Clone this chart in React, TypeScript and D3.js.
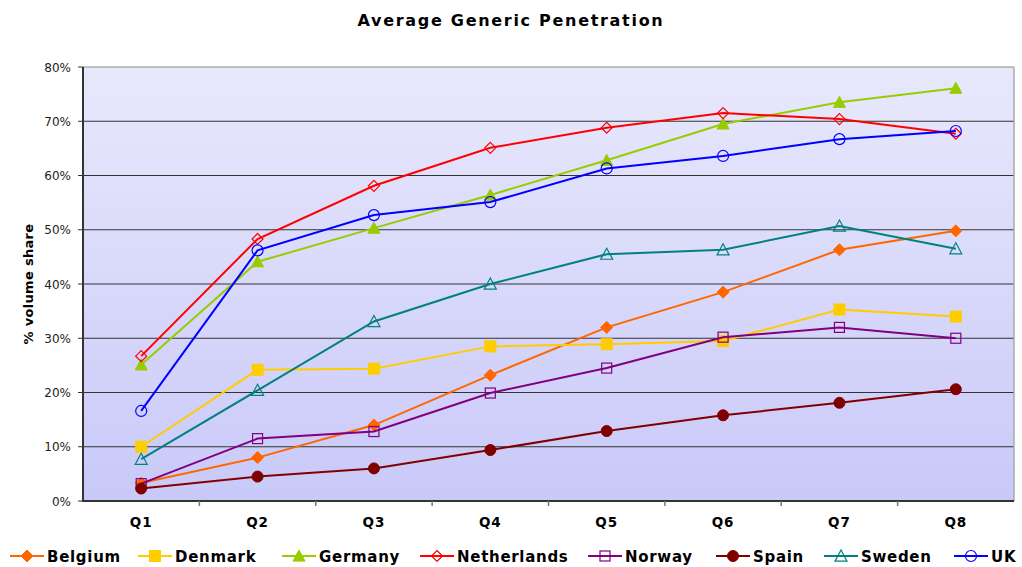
import React from 'react';
import * as d3 from 'd3';

const quarters = ['Q1', 'Q2', 'Q3', 'Q4', 'Q5', 'Q6', 'Q7', 'Q8'];
const yTicks = [0, 0.1, 0.2, 0.3, 0.4, 0.5, 0.6, 0.7, 0.8];

const belgium = [3.3, 8.0, 14.0, 23.2, 32.0, 38.5, 46.3, 49.8];
const denmark = [10.0, 24.2, 24.4, 28.5, 28.9, 29.5, 35.3, 34.0];
const germany = [25.1, 44.1, 50.3, 56.4, 62.8, 69.5, 73.5, 76.1];
const netherlands = [26.7, 48.3, 58.1, 65.1, 68.8, 71.5, 70.4, 67.7];
const norway = [3.2, 11.5, 12.8, 19.9, 24.5, 30.2, 32.0, 30.0];
const spain = [2.3, 4.5, 6.0, 9.4, 12.9, 15.8, 18.1, 20.6];
const sweden = [7.7, 20.4, 33.1, 40.0, 45.5, 46.3, 50.7, 46.5];
const uk = [16.6, 46.2, 52.7, 55.1, 61.3, 63.6, 66.7, 68.2];

type Marker = 'diamond' | 'square' | 'triangle' | 'circle';

const series: { name: string; values: number[]; color: string; marker: Marker; filled: boolean }[] = [
  { name: 'Belgium', values: belgium, color: '#FF6600', marker: 'diamond', filled: true },
  { name: 'Denmark', values: denmark, color: '#FFCC00', marker: 'square', filled: true },
  { name: 'Germany', values: germany, color: '#99CC00', marker: 'triangle', filled: true },
  { name: 'Netherlands', values: netherlands, color: '#FF0000', marker: 'diamond', filled: false },
  { name: 'Norway', values: norway, color: '#800080', marker: 'square', filled: false },
  { name: 'Spain', values: spain, color: '#800000', marker: 'circle', filled: true },
  { name: 'Sweden', values: sweden, color: '#008080', marker: 'triangle', filled: false },
  { name: 'UK', values: uk, color: '#0000FF', marker: 'circle', filled: false },
];

// legend item start x (line start)
const legendX = [10, 138, 282, 420, 588, 716, 824, 954];

const width = 1022;
const height = 567;
const plot = { left: 83, right: 1014, top: 67, bottom: 501 };

function MarkerShape({ type, filled, color, x, y }: { type: Marker; filled: boolean; color: string; x: number; y: number }) {
  const fill = filled ? color : 'none';
  const sw = filled ? 1 : 1.2;
  if (type === 'diamond') {
    const s = filled ? 6 : 5.5;
    return (
      <path
        d={`M${x},${y - s}L${x + s},${y}L${x},${y + s}L${x - s},${y}Z`}
        fill={fill}
        stroke={color}
        strokeWidth={sw}
      />
    );
  }
  if (type === 'square') {
    const s = filled ? 5.5 : 5;
    return <rect x={x - s} y={y - s} width={s * 2} height={s * 2} fill={fill} stroke={color} strokeWidth={sw} />;
  }
  if (type === 'triangle') {
    const s = 6;
    return (
      <path
        d={`M${x},${y - s}L${x + s},${y + s * 0.85}L${x - s},${y + s * 0.85}Z`}
        fill={fill}
        stroke={color}
        strokeWidth={sw}
      />
    );
  }
  return <circle cx={x} cy={y} r={5.5} fill={fill} stroke={color} strokeWidth={sw} />;
}

export default function App() {
  const x = d3.scaleBand<string>().domain(quarters).range([plot.left, plot.right]);
  const y = d3.scaleLinear().domain([0, 0.8]).range([plot.bottom, plot.top]);
  const cx = (q: string) => (x(q) ?? 0) + x.bandwidth() / 2;

  const line = d3
    .line<number>()
    .x((_, i) => cx(quarters[i]))
    .y((v) => y(v / 100));

  const font = 'Verdana, "DejaVu Sans", sans-serif';

  return (
    <svg
      width={width}
      height={height}
      style={{ position: 'absolute', left: 0, top: 0, background: '#fff' }}
      fontFamily={font}
    >
      <defs>
        <linearGradient id="bg" x1="0" y1="0" x2="0" y2="1">
          <stop offset="0" stopColor="#E8E8FC" />
          <stop offset="1" stopColor="#C9C9F9" />
        </linearGradient>
      </defs>

      <text x={511} y={26} textAnchor="middle" fontSize={16} fontWeight="bold" letterSpacing={1.7}>
        Average Generic Penetration
      </text>

      <rect
        x={plot.left}
        y={plot.top}
        width={plot.right - plot.left}
        height={plot.bottom - plot.top}
        fill="url(#bg)"
      />

      {/* gridlines */}
      {yTicks.slice(1, -1).map((t) => (
        <line key={t} x1={plot.left} x2={plot.right} y1={y(t)} y2={y(t)} stroke="#333" strokeWidth={1} />
      ))}
      <line x1={plot.left} x2={plot.right} y1={plot.top} y2={plot.top} stroke="#888" strokeWidth={1} />
      <line x1={plot.right} x2={plot.right} y1={plot.top} y2={plot.bottom} stroke="#aaa" strokeWidth={1.5} />

      {/* y axis */}
      <line x1={plot.left} x2={plot.left} y1={plot.top} y2={plot.bottom + 1} stroke="#333" strokeWidth={2} />
      {yTicks.map((t) => (
        <g key={t}>
          <line x1={plot.left - 5} x2={plot.left} y1={y(t)} y2={y(t)} stroke="#333" strokeWidth={1} />
          <text x={plot.left - 12} y={y(t) + 4.5} textAnchor="end" fontSize={12} fill="#222">
            {d3.format('.0%')(t)}
          </text>
        </g>
      ))}

      {/* x axis */}
      <line x1={plot.left} x2={plot.right} y1={plot.bottom} y2={plot.bottom} stroke="#333" strokeWidth={2} />
      {quarters.map((q, i) => (
        <g key={q}>
          {i > 0 && (
            <line x1={x(q)} x2={x(q)} y1={plot.bottom} y2={plot.bottom + 5} stroke="#777" strokeWidth={1.5} />
          )}
          <text x={cx(q)} y={527} textAnchor="middle" fontSize={13.5} fontWeight="bold" letterSpacing={1}>
            {q}
          </text>
        </g>
      ))}

      <text
        transform={`translate(33,${(plot.top + plot.bottom) / 2}) rotate(-90)`}
        textAnchor="middle"
        fontSize={13}
        fontWeight="bold"
        letterSpacing={0.3}
      >
        % volume share
      </text>

      {/* series */}
      {series.map((s) => (
        <g key={s.name}>
          <path d={line(s.values) ?? ''} fill="none" stroke={s.color} strokeWidth={2} />
          {s.values.map((v, i) => (
            <MarkerShape key={i} type={s.marker} filled={s.filled} color={s.color} x={cx(quarters[i])} y={y(v / 100)} />
          ))}
        </g>
      ))}

      {/* legend */}
      {series.map((s, i) => {
        const lx = legendX[i];
        const ly = 556;
        return (
          <g key={s.name}>
            <line x1={lx} x2={lx + 34} y1={ly} y2={ly} stroke={s.color} strokeWidth={2} />
            <MarkerShape type={s.marker} filled={s.filled} color={s.color} x={lx + 17} y={ly} />
            <text x={lx + 37} y={ly + 5.5} fontSize={15} fontWeight="bold" letterSpacing={0.7}>
              {s.name}
            </text>
          </g>
        );
      })}
    </svg>
  );
}
